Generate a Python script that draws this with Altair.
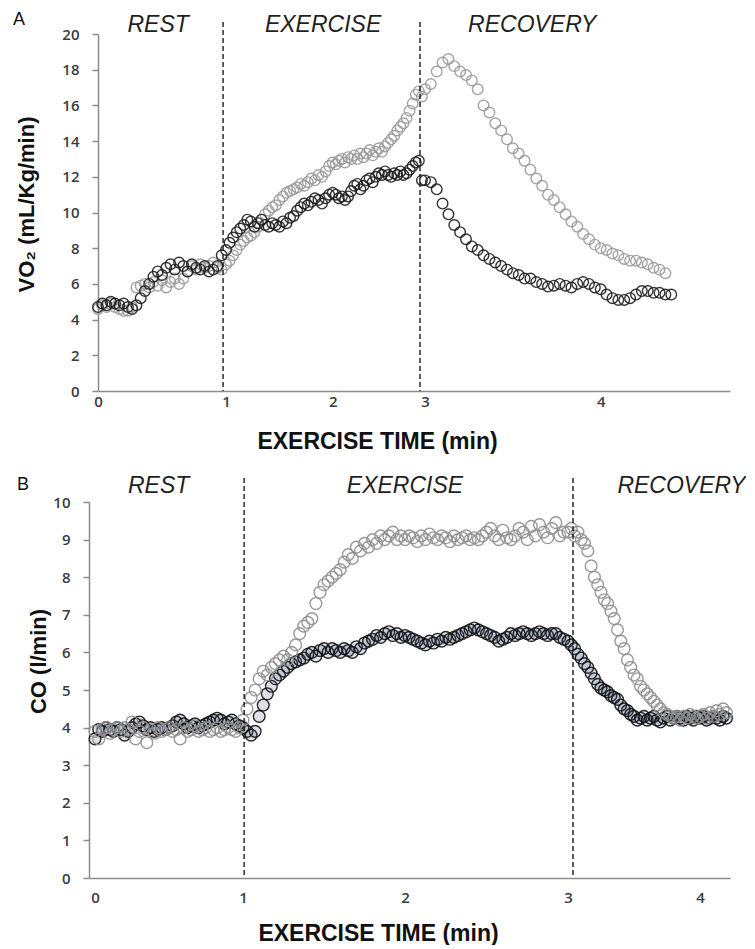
import altair as alt
import pandas as pd

# ---------------- data ----------------
# Panel A: VO2 (mL/Kg/min), one reading every 2 s (30 per minute)
A_step = 1 / 30
A_black = [
    4.7, 4.9, 4.8, 5.0, 4.9, 4.8, 4.9, 4.7, 4.6, 4.8, 5.2, 5.6, 6.0, 6.4, 6.7,
    6.5, 6.9, 7.1, 6.8, 7.2, 7.0, 6.7, 7.1, 6.9, 6.8, 7.0, 6.7, 6.8, 7.0, 7.6,
    7.9, 8.3, 8.6, 8.9, 9.1, 9.3, 9.6, 9.5, 9.2, 9.4, 9.6, 9.3, 9.2, 9.4, 9.3,
    9.2, 9.5, 9.4, 9.7, 9.8, 10.1, 10.3, 10.5, 10.4, 10.6, 10.8, 10.7, 10.5, 10.8, 11.0,
    11.1, 11.0, 10.8, 10.9, 10.7, 10.9, 11.2, 11.5, 11.6, 11.3, 11.5, 11.8, 11.9, 11.7, 12.0,
    12.2, 12.1, 12.3, 12.1, 12.0, 12.2, 12.1, 12.3, 12.1, 12.2, 12.4, 12.6, 12.8, 12.9, 11.8,
    11.8, 11.7, 11.3, 10.5, 9.9, 9.3, 8.9, 8.5, 8.1, 7.9, 7.6, 7.4, 7.2, 7.0, 6.8,
    6.6, 6.5, 6.3, 6.3, 6.1, 6.0, 5.85, 5.9, 6.0, 5.9, 5.8, 6.0, 6.1, 6.0, 5.8,
    5.7, 5.4, 5.2, 5.1, 5.1, 5.2, 5.4, 5.6, 5.6, 5.5, 5.5, 5.4, 5.4,
]
A_gray = [
    4.6, 4.8, 4.7, 4.9, 4.7, 4.6, 4.5, 4.5, 4.7, 5.8, 5.9, 6.0, 5.8, 6.1, 5.9,
    6.2, 5.8, 6.1, 6.3, 6.0, 6.3, 6.7, 7.0, 6.8, 7.1, 6.9, 7.0, 7.2, 6.9, 6.8,
    7.1, 7.3, 7.6, 7.9, 8.2, 8.4, 8.6, 8.7, 8.9, 9.2, 9.6, 9.9, 10.1, 10.3, 10.4,
    10.7, 10.9, 11.1, 11.2, 11.3, 11.4, 11.6, 11.5, 11.7, 11.9, 11.8, 12.1, 12.0, 12.3, 12.6,
    12.8, 12.7, 12.9, 13.0, 12.8, 13.1, 13.0, 13.2, 13.0, 13.3, 13.1, 13.3, 13.5, 13.2, 13.4,
    13.6, 13.4, 13.7, 13.9, 14.1, 14.3, 14.6, 14.8, 15.0, 15.3, 15.7, 16.1, 16.6, 16.8, 16.5,
    16.9, 17.2, 17.9, 18.4, 18.6, 18.2, 17.9, 17.7, 17.4, 16.9, 16.0, 15.6, 15.0, 14.6, 14.1,
    13.6, 13.3, 12.9, 12.4, 11.9, 11.5, 11.0, 10.7, 10.3, 9.9, 9.5, 9.2, 8.8, 8.5, 8.2,
    8.0, 7.9, 7.7, 7.6, 7.4, 7.3, 7.3, 7.2, 7.1, 6.9, 6.8, 6.6,
]

# Panel B: CO (l/min), 40 readings per minute
B_step = 1 / 40
B_black = [
    3.7, 3.95, 3.9, 4.0, 3.95, 3.9, 4.0, 3.95, 3.8, 3.9,
    4.0, 4.1, 4.15, 4.05, 3.95, 4.0, 3.9, 3.95, 4.0, 3.95,
    4.0, 4.05, 4.15, 4.2, 4.1, 4.0, 4.05, 4.1, 4.0, 4.05,
    4.1, 4.15, 4.2, 4.25, 4.2, 4.1, 4.15, 4.2, 4.1, 4.05,
    4.0, 3.9, 3.8, 3.9, 4.3, 4.6, 4.9, 5.1, 5.3, 5.4,
    5.5, 5.6, 5.7, 5.75, 5.8, 5.85, 5.95, 6.0, 5.9, 6.05,
    6.1, 6.0, 6.1, 6.05, 6.0, 6.1, 6.05, 6.0, 6.15, 6.1,
    6.25, 6.3, 6.35, 6.45, 6.4, 6.5, 6.55, 6.45, 6.5, 6.4,
    6.45, 6.4, 6.35, 6.3, 6.25, 6.2, 6.3, 6.25, 6.35, 6.3,
    6.4, 6.35, 6.4, 6.45, 6.5, 6.55, 6.6, 6.65, 6.6, 6.55,
    6.5, 6.45, 6.4, 6.3, 6.35, 6.4, 6.5, 6.45, 6.5, 6.55,
    6.5, 6.45, 6.5, 6.55, 6.5, 6.45, 6.5, 6.5, 6.4, 6.35,
    6.3, 6.2, 6.1, 5.95, 5.85, 5.7, 5.6, 5.45, 5.3, 5.15,
    5.05, 5.0, 4.95, 4.85, 4.8, 4.75, 4.6, 4.5, 4.45, 4.35,
    4.3, 4.2, 4.25, 4.3, 4.2, 4.25, 4.3, 4.2, 4.15, 4.25,
    4.3, 4.2, 4.25, 4.3, 4.25, 4.2, 4.3, 4.25, 4.2, 4.3,
    4.25, 4.3, 4.2, 4.25, 4.3, 4.25, 4.2, 4.3, 4.25,
]
B_gray = [
    3.9, 3.7, 3.95, 4.0, 3.85, 3.95, 4.0, 3.9, 4.0, 3.95,
    4.15, 3.7, 3.9, 4.0, 3.6, 3.95, 3.85, 4.0, 3.9, 3.95,
    4.0, 3.9, 3.95, 3.7, 4.0, 3.9, 3.95, 4.05, 3.9, 3.95,
    4.0, 3.9, 3.95, 4.0, 3.9, 3.95, 4.0, 3.95, 3.9, 4.0,
    4.2, 4.5, 4.8, 5.0, 5.3, 5.5, 5.4, 5.6, 5.7, 5.8,
    5.9, 5.8, 6.0, 6.2, 6.5, 6.7, 6.8, 6.9, 7.3, 7.6,
    7.8, 7.9, 8.0, 8.1, 8.2, 8.4, 8.6, 8.5, 8.8, 8.7,
    8.9, 8.8, 9.0, 8.9, 9.1, 9.0, 9.1, 9.2, 9.0, 9.1,
    9.0, 9.1, 9.05, 8.95, 9.1, 9.0, 9.15, 9.05, 9.0, 9.1,
    9.05, 8.95, 9.1, 9.0, 9.05, 9.1, 9.0, 9.05, 9.0, 9.1,
    9.2, 9.3, 9.1, 9.0, 9.25, 9.05, 9.0, 9.1, 9.3, 9.2,
    9.0, 9.35, 9.1, 9.4, 9.2, 9.05, 9.3, 9.45, 9.1, 9.2,
    9.2, 9.3, 9.1, 9.2, 9.0, 8.9, 8.7, 8.3, 8.0, 7.8,
    7.6, 7.4, 7.3, 7.1, 6.9, 6.6, 6.3, 6.1, 5.8, 5.6,
    5.4, 5.3, 5.1, 5.0, 4.9, 4.8, 4.7, 4.6, 4.5, 4.4,
    4.35, 4.3, 4.25, 4.3, 4.2, 4.3, 4.25, 4.35, 4.3, 4.25,
    4.3, 4.35, 4.25, 4.4, 4.3, 4.45, 4.35, 4.5, 4.4,
]

x_ticks = [0, 1, 2, 3, 4]
A_y_ticks = [0, 2, 4, 6, 8, 10, 12, 14, 16, 18, 20]
B_y_ticks = [0, 1, 2, 3, 4, 5, 6, 7, 8, 9, 10]
phase_labels = ["REST", "EXERCISE", "RECOVERY"]
A_phase_bounds = [0.977, 2.946]
B_phase_bounds = [1.007, 3.038]
A_phase_label_t = [0.47, 1.91, 3.61]
B_phase_label_t = [0.43, 2.0, 3.86]

# ---------------- layout / style ----------------
W = 641
A_H, B_H = 357, 376
A_x_scale = alt.Scale(domain=[0, 1, 2, 3, 4, 4.733],
                      range=[9, 137, 243.7, 336, 511.7, 641], nice=False, zero=False)
B_x_scale = alt.Scale(domain=[-0.0405, 0, 1, 2, 3, 4, 4.227],
                      range=[0, 6, 154, 316, 479, 611, 641], nice=False, zero=False)

AX_COL = "#8c8c8c"
LBL = dict(labelFont="Open Sans", labelFontSize=15, labelFontWeight=600, labelColor="#3c3c3c")
TTL = dict(titleFont="Liberation Sans", titleFontWeight="bold", titleColor="#111111")


def x_axis(title_x, title_y, label_pad):
    return alt.Axis(values=x_ticks, format="d", title="EXERCISE TIME (min)", grid=False,
                    ticks=False, tickSize=0, labelPadding=label_pad, labelFlush=False,
                    domainColor=AX_COL, domainWidth=1.5, titleFontSize=23,
                    titleX=title_x, titleY=title_y, titleBaseline="alphabetic",
                    titleAlign="center", **LBL, **TTL)


def y_axis(title, ticks, title_x, title_y, offset):
    return alt.Axis(values=ticks, format="d", title=title, grid=False, tickSize=6,
                    tickColor=AX_COL, tickWidth=1.5, labelPadding=13, labelFlush=False,
                    domainColor=AX_COL, domainWidth=1.5, offset=offset, titleFontSize=22,
                    titleAngle=270, titleX=title_x, titleY=title_y,
                    titleBaseline="alphabetic", titleAlign="center", **LBL, **TTL)


def panel(letter, series, y_dom, y_ticks, y_title, x_scale, xa, ya, h,
          bounds, label_t, label_y, rule_top, letter_x, letter_y):
    X = alt.X("t:Q", scale=x_scale, axis=xa)
    layers = []
    for vals, step, style in series:
        df = pd.DataFrame({"t": [i * step for i in range(len(vals))], "v": vals})
        layers.append(
            alt.Chart(df).mark_point(shape="circle", opacity=1, **style).encode(
                x=X,
                y=alt.Y("v:Q", scale=alt.Scale(domain=y_dom, nice=False), axis=ya),
            )
        )
    rules = alt.Chart(pd.DataFrame({"t": bounds})).mark_rule(
        color="#1a1a1a", strokeWidth=1.4, strokeDash=[5, 3]
    ).encode(x=X, y=alt.value(rule_top), y2=alt.value(h))
    labels = alt.Chart(pd.DataFrame({"t": label_t, "label": phase_labels})).mark_text(
        font="Liberation Sans", fontStyle="italic", fontSize=23, color="#1f1f1f",
        align="center", baseline="alphabetic"
    ).encode(x=X, y=alt.value(label_y), text="label:N")
    let = alt.Chart(pd.DataFrame({"label": [letter]})).mark_text(
        font="Liberation Sans", fontSize=18, color="#111111", align="left",
        baseline="alphabetic"
    ).encode(x=alt.value(letter_x), y=alt.value(letter_y), text="label:N")
    return alt.layer(*layers, rules, labels, let).properties(width=W, height=h)


A = panel(
    "A",
    [
        (A_gray, A_step, dict(filled=False, size=112, strokeWidth=1.4, color="#9a9a9a", strokeOpacity=0.9)),
        (A_black, A_step, dict(filled=False, size=112, strokeWidth=1.4, color="#1e1e1e", strokeOpacity=0.9)),
    ],
    [0, 20], A_y_ticks, "VO₂ (mL/Kg/min)", A_x_scale,
    x_axis(288, 57, 3), y_axis("VO₂ (mL/Kg/min)", A_y_ticks, -64.7, 170, -9), A_H,
    A_phase_bounds, A_phase_label_t, -2, -12, -76, -9,
)

B = panel(
    "B",
    [
        (B_black, B_step, dict(filled=True, size=138, strokeWidth=1.4, stroke="#111111",
                               fill="#1f3f66", fillOpacity=0.15, strokeOpacity=0.9)),
        (B_gray, B_step, dict(filled=False, size=138, strokeWidth=1.4, color="#8e8e8e", strokeOpacity=0.9)),
    ],
    [0, 10], B_y_ticks, "CO (l/min)", B_x_scale,
    x_axis(289, 62, 12), y_axis("CO (l/min)", B_y_ticks, -44, 159, 0), B_H,
    B_phase_bounds, B_phase_label_t, -9, -24, -72, -12,
)

chart = alt.vconcat(A, B, spacing=111, bounds="flush").properties(
    padding={"left": 5, "top": 3, "right": 0, "bottom": 0}
).configure_view(stroke=None)

chart.save("out.html", embed_options={"renderer": "svg", "actions": False})
